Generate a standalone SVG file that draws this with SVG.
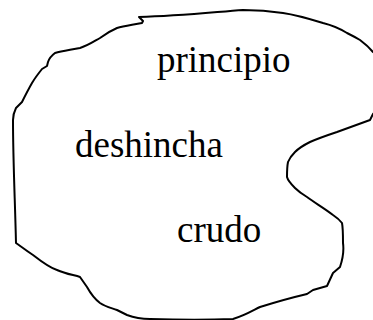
<svg xmlns="http://www.w3.org/2000/svg" width="373" height="320" viewBox="0 0 373 320">
<style>
.outline{fill:none;stroke:#000;stroke-width:2;stroke-linejoin:round;stroke-linecap:round}
.lbl{font-family:"Liberation Serif","Times New Roman",serif;font-size:37px;fill:#000}
</style>
<rect width="373" height="320" fill="#fff"/>
<g id="blob">
<path class="outline" d="M139,17 L143,21 L142,23 C132,25 124,26 117,28 C110,31 104,35 100,38 C93,42 87,46 80,48 C70,50 62,51 55,53 C51,56 49,59 48,62 L47,66 L42,69 C38,74 35,78 32,83 C28,90 25,96 22,102 L16,108 C14,112 13,116 13,120 C13,160 15,200 16,243 L23,248 C27,251 30,253 33,255 C42,262 50,268 57,270 C66,274 74,275 80,277 L87,287 C92,296 96,300 100,303 C106,307 112,308 117,310 L127,315 C135,318 142,319 150,319 C180,320 210,320 233,319 C244,316 252,311 260,307 C276,302 290,298 307,294 L313,290 L327,286 L333,273 L340,267 C343,258 344,250 343,243 C343,234 343,228 342,223 C339,219 336,217 333,215 C324,208 315,203 307,197 C302,194 298,191 295,188 C291,184 288,181 287,177 C287,172 287,167 288,162 C290,157 292,155 295,152 C300,147 304,145 310,142 C319,138 328,135 337,132 C348,128 359,124 370,120 L373,114 L377,110 L377,55 L373,52 C368,46 364,43 360,40 C355,37 351,35 347,33 C339,28 331,25 323,23 C310,19 297,15 283,13 C270,11 256,10 243,10 C215,12 180,16 139,17 Z"/>
</g>
<g id="n1"><text class="lbl" x="157" y="72">principio</text></g>
<g id="n2"><text class="lbl" x="75" y="157">deshincha</text></g>
<g id="n3"><text class="lbl" x="177" y="242">crudo</text></g>
<g id="connectors"/>
</svg>
